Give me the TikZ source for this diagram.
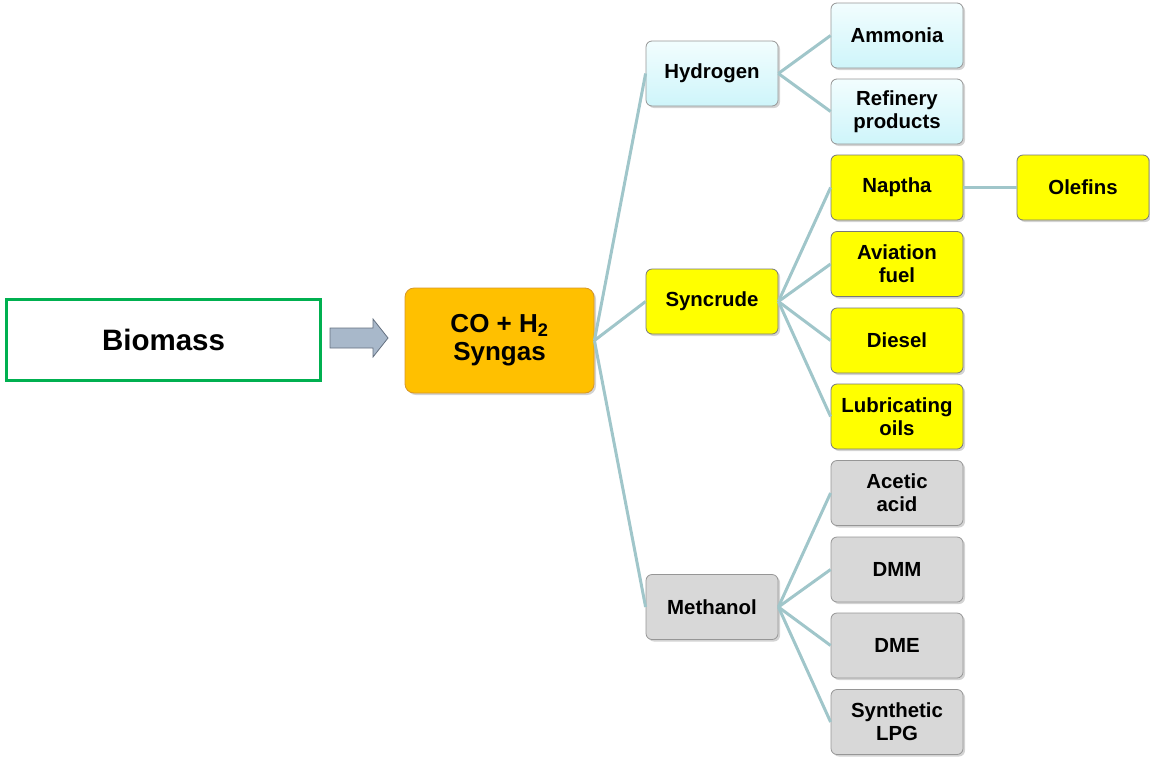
\documentclass[tikz,border=0pt]{standalone}
\usepackage{fontspec}
\setmainfont{Liberation Sans}
\usetikzlibrary{shadows}
\definecolor{linkc}{RGB}{160,198,202}
\definecolor{greenb}{RGB}{0,176,80}
\definecolor{orangef}{RGB}{255,192,0}
\definecolor{oranged}{RGB}{214,150,40}
\definecolor{cyantop}{RGB}{242,253,254}
\definecolor{cyanbot}{RGB}{206,245,250}
\definecolor{yellowf}{RGB}{255,255,0}
\definecolor{greyf}{RGB}{216,216,216}
\definecolor{boxedge}{RGB}{150,150,150}
\definecolor{arrowf}{RGB}{168,184,202}
\definecolor{arrowd}{RGB}{100,112,128}
\tikzset{
  x=1pt, y=-1pt,
  txt/.style={font=\bfseries\fontsize{20.4}{23}\selectfont, align=center, text=black},
  box/.style={txt, rectangle, rounded corners=6pt, draw=boxedge, line width=0.8pt,
    minimum width=132pt, minimum height=65pt, inner sep=2pt,
    drop shadow={opacity=0.35, shadow xshift=2pt, shadow yshift=-2pt}},
  cyanbox/.style={box, top color=cyantop, bottom color=cyanbot},
  yelbox/.style={box, fill=yellowf, draw=boxedge!80!black},
  greybox/.style={box, fill=greyf},
  link/.style={draw=linkc, line width=3pt},
}
\begin{document}
\begin{tikzpicture}
\useasboundingbox (0,0) rectangle (1150,758);

% source and gas
\node[txt, font=\bfseries\fontsize{29.5}{32}\selectfont, draw=greenb, line width=3pt,
  minimum width=314pt, minimum height=81pt] (biomass) at (163.5,340) {Biomass};
\node[txt, font=\bfseries\fontsize{26}{28}\selectfont, rectangle, rounded corners=9pt,
  fill=orangef, draw=oranged, line width=0.8pt, minimum width=189pt, minimum height=105pt,
  drop shadow={opacity=0.35, shadow xshift=2pt, shadow yshift=-2pt}]
  (syngas) at (499.5,340.5) {CO + H\textsubscript{2}\\Syngas};

% block arrow between them
\filldraw[fill=arrowf, draw=arrowd, line width=0.8pt]
  (330,328) -- (373,328) -- (373,319) -- (388,338) -- (373,357) -- (373,348) -- (330,348) -- cycle;

% intermediates
\node[cyanbox] (hydrogen) at (712,73.5) {Hydrogen};
\node[yelbox] (syncrude) at (712,301.5) {Syncrude};
\node[greybox] (methanol) at (712,607) {Methanol};

% products
\node[cyanbox] (ammonia) at (897,35.5) {Ammonia};
\node[cyanbox] (refinery) at (897,111.5) {Refinery\\products};
\node[yelbox] (naptha) at (897,187.5) {Naptha};
\node[yelbox] (aviation) at (897,264) {Aviation\\fuel};
\node[yelbox] (diesel) at (897,340.5) {Diesel};
\node[yelbox] (lube) at (897,416.5) {Lubricating\\oils};
\node[greybox] (acetic) at (897,493) {Acetic\\acid};
\node[greybox] (dmm) at (897,569.5) {DMM};
\node[greybox] (dme) at (897,645.5) {DME};
\node[greybox] (lpg) at (897,722) {Synthetic\\LPG};
\node[yelbox] (olefins) at (1083,187.5) {Olefins};

% connectors
\foreach \t in {hydrogen,syncrude,methanol}
  \draw[link] (syngas.east) -- (\t.west);
\foreach \t in {ammonia,refinery}
  \draw[link] (hydrogen.east) -- (\t.west);
\foreach \t in {naptha,aviation,diesel,lube}
  \draw[link] (syncrude.east) -- (\t.west);
\foreach \t in {acetic,dmm,dme,lpg}
  \draw[link] (methanol.east) -- (\t.west);
\draw[link] (naptha.east) -- (olefins.west);
\end{tikzpicture}
\end{document}
